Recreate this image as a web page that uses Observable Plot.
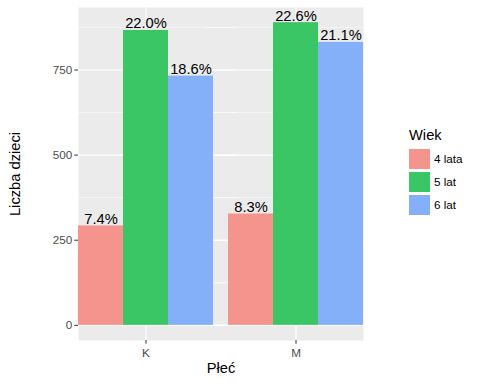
<!DOCTYPE html>
<html><head><meta charset="utf-8">
<script src="https://cdn.jsdelivr.net/npm/d3@7"></script>
<script src="https://cdn.jsdelivr.net/npm/@observablehq/plot@0.6"></script>
<style>
body{margin:0;background:#fff;font-family:"Liberation Sans",Arial,sans-serif;}
#wrap{position:relative;width:480px;height:384px;overflow:hidden;}
#ytitle{position:absolute;left:15px;top:173.5px;transform:translate(-50%,-50%) rotate(-90deg);font-size:14.7px;line-height:17px;white-space:nowrap;color:#000;font-family:"Liberation Sans",Arial,sans-serif;}
#legend{position:absolute;left:409px;top:127px;}
#legend, #legend *{font-family:"Liberation Sans",Arial,sans-serif !important;font-size:11.7px !important;color:#000 !important;}
#legend .ttl{font-size:14.7px !important;line-height:17px;margin-bottom:5px;}
#legend > div:not(.ttl){margin:0 !important;min-height:0 !important;}
#legend .lg-swatch{padding-bottom:3px !important;margin:0 !important;line-height:20px;}
#legend .lg-swatch svg{margin-right:4px !important;}
</style></head><body><div id="wrap"></div>
<script>
const plec = ["K", "M"];
const wiek = ["4 lata", "5 lat", "6 lat"];
const lata4 = [292, 327];
const lat5 = [866, 889];
const lat6 = [732, 831];
const yTicks = [0, 250, 500, 750];
const yMinor = [125, 375, 625, 875];
const kolory = ["#F5938D", "#3BC665", "#84B0FA"];
const tytulX = "Płeć";
const tytulY = "Liczba dzieci";
const tytulLegendy = "Wiek";

const series = [lata4, lat5, lat6];
const total = d3.sum(series.flat());
const rows = [];
plec.forEach((p, i) => wiek.forEach((w, j) => rows.push({
  plec: p, wiek: w, liczba: series[j][i],
  label: (series[j][i] / total * 100).toFixed(1) + "%"
})));
const maxV = d3.max(rows, d => d.liczba);
const FONT = "Liberation Sans, Arial, sans-serif";

const W = 480, H = 384, ML = 54, MR = 94, MT = 7, MB = 44;
const padIn = 0.1, padOut = 0.15;
const step = (W - ML - MR) / (plec.length - padIn + 2 * padOut);
const ext = -padOut * step; // extend grid lines over the panel's outer padding

const chart = Plot.plot({
  width: W, height: H,
  marginLeft: ML, marginRight: MR, marginTop: MT, marginBottom: MB,
  style: {fontFamily: FONT, fontSize: "11.7px", background: "white", overflow: "visible"},
  fx: {domain: plec, paddingInner: padIn, paddingOuter: padOut, label: null, axis: null},
  x: {domain: wiek, padding: 0, axis: null},
  y: {domain: [-0.05 * maxV, 1.05 * maxV], axis: null},
  color: {domain: wiek, range: kolory},
  marks: [
    Plot.frame({fill: "#EBEBEB", stroke: null, facet: "super"}),
    Plot.ruleY(yMinor, {stroke: "white", strokeWidth: 0.53, insetLeft: ext, insetRight: ext}),
    Plot.ruleY(yTicks, {stroke: "white", strokeWidth: 1.07, insetLeft: ext, insetRight: ext}),
    Plot.ruleX([wiek[1]], {x: d => d, stroke: "white", strokeWidth: 1.07}),
    Plot.barY(rows, {fx: "plec", x: "wiek", y: "liczba", fill: "wiek"}),
    Plot.text(rows, {fx: "plec", x: "wiek", y: "liczba", text: "label", lineAnchor: "bottom", dy: -2, fontSize: 14.7, fill: "black", fontFamily: FONT}),
    Plot.axisY(yTicks, {tickSize: 3.7, tickPadding: 2.5, fontSize: 11.7, fill: "#4D4D4D", stroke: "#333333", label: null}),
    Plot.axisFx({anchor: "bottom", tickSize: 3.7, tickPadding: 4.5, fontSize: 11.7, fill: "#4D4D4D", stroke: "#333333", label: null}),
    Plot.text([tytulX], {text: d => d, frameAnchor: "bottom", textAnchor: "middle", dy: 32, fontSize: 14.7, fill: "black", facet: "super"})
  ]
});

const wrap = document.getElementById("wrap");
wrap.appendChild(chart);
const yTitle = document.createElement("div");
yTitle.id = "ytitle";
yTitle.textContent = tytulY;
wrap.appendChild(yTitle);
const legendBox = document.createElement("div");
legendBox.id = "legend";
const ttl = document.createElement("div");
ttl.className = "ttl";
ttl.textContent = tytulLegendy;
legendBox.appendChild(ttl);
legendBox.appendChild(chart.legend("color", {legend: "swatches", columns: 1, swatchWidth: 21, swatchHeight: 20, className: "lg"}));
wrap.appendChild(legendBox);
</script>
</body></html>
